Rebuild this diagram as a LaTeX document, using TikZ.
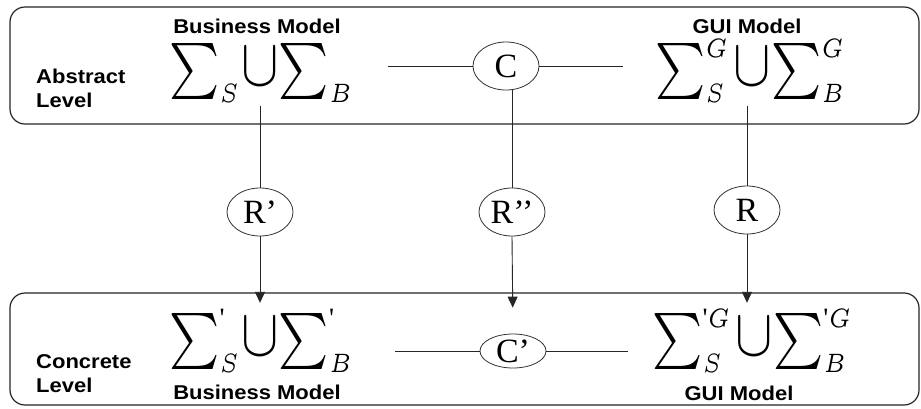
\documentclass[tikz,border=0pt]{standalone}
\usepackage{graphicx}
\usepackage{fontspec}
\setmainfont{Liberation Serif}
\newfontfamily\lblfont{Liberation Sans}
\usetikzlibrary{shapes.geometric,arrows.meta}
\newcommand\wide[1]{\scalebox{1.1}[1]{#1}}
\newcommand\fsum{\mathop{\scalebox{0.85}[1]{$\textstyle\sum$}}\nolimits}
\newcommand\fcup{\mathord{\scalebox{1}[1.2]{$\cup$}}}
\newcommand\fsb[1]{\scalebox{0.75}[0.95]{$\scriptscriptstyle #1$}}
\newcommand\fpr{\hbox{\fontsize{5}{5}\selectfont\textquotesingle}}
\newcommand\frm[1]{\scalebox{5.6}{$#1$}}
\tikzset{
 lvl/.style={draw=black!85, line width=1.2pt, rounded corners=15pt},
 rel/.style={draw=black!80, line width=0.8pt, ellipse, inner sep=0pt, minimum width=66pt, minimum height=48pt, font=\fontsize{34}{34}\selectfont},
 conn/.style={draw=black!85, line width=0.9pt},
 arr/.style={conn, -{Triangle[length=11pt,width=10pt]}},
 lbl/.style={font=\lblfont\bfseries\fontsize{20}{24}\selectfont, inner sep=0pt},
 frm/.style={inner sep=0pt, anchor=base}
}
\begin{document}
\begin{tikzpicture}[x=1pt,y=-1pt]
\useasboundingbox (0,0) rectangle (921,408);
\fill[white] (0,0) rectangle (921,408);
% level frames
\draw[lvl] (10,7) rectangle (919,124);
\draw[lvl] (10,293) rectangle (919,405);
% labels
\node[lbl, anchor=base] (bmA) at (257,33) {\wide{Business Model}};
\node[lbl, anchor=base] (gmA) at (747,33) {\wide{GUI Model}};
\node[lbl, anchor=base west, align=left] (absL) at (36,107) {\wide{Abstract}\\\wide{Level}};
\node[lbl, anchor=base west, align=left] (conL) at (36,392) {\wide{Concrete}\\\wide{Level}};
\node[lbl, anchor=base] (bmC) at (257,399) {\wide{Business Model}};
\node[lbl, anchor=base] (gmC) at (739,400) {\wide{GUI Model}};
% formulas
\node[frm] (fBa) at (262,85.5) {\frm{\fsum_{\fsb{S}}\mkern-3mu\fcup\mkern-3mu\fsum_{\fsb{B}}}};
\node[frm] (fGa) at (751,85.5) {\frm{\fsum^{\fsb{G}}_{\fsb{S}}\mkern-2mu\fcup\mkern-3mu\fsum^{\fsb{G}}_{\fsb{B}}}};
\node[frm] (fBc) at (262,355.5) {\frm{\fsum^{\fpr}_{\fsb{S}}\mkern-3mu\fcup\mkern-3mu\fsum^{\fpr}_{\fsb{B}}}};
\node[frm] (fGc) at (753,355.5) {\frm{\fsum^{\fpr\fsb{G}}_{\fsb{S}}\mkern-2mu\fcup\mkern-3mu\fsum^{\fpr\fsb{G}}_{\fsb{B}}}};
% relation ellipses
\node[rel] (C) at (506,66) {C};
\node[rel] (Rp) at (260,212) {R’};
\node[rel] (Rpp) at (512,212) {R’’};
\node[rel] (R) at (747,210) {R};
\node[rel, minimum height=34pt] (Cp) at (513,351) {C’};
% connectors
\coordinate (tl) at (388,66);
\coordinate (tr) at (623,66);
\coordinate (bl) at (395,351);
\coordinate (br) at (628,351);
\draw[conn] (tl) -- (C.west);
\draw[conn] (C.east) -- (tr);
\draw[conn] (bl) -- (Cp.west);
\draw[conn] (Cp.east) -- (br);
\draw[conn, shorten <=3pt] (Rp.north |- fBa.south) -- (Rp.north);
\draw[arr, shorten >=6pt] (Rp.south) -- (Rp.south |- fBc.north);
\draw[conn] (Rpp.north |- C.south) -- (Rpp.north);
\draw[arr, shorten >=26pt] (Rpp.south) -- (Cp.north);
\draw[conn, shorten <=3pt] (R.north |- fGa.south) -- (R.north);
\draw[arr, shorten >=6pt] (R.south) -- (R.south |- fBc.north);
\end{tikzpicture}
\end{document}
